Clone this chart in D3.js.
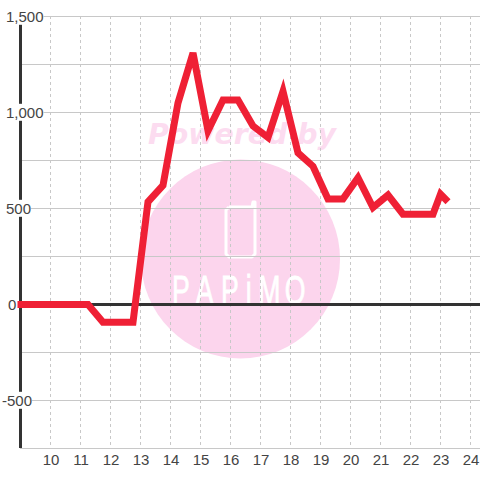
<!DOCTYPE html>
<html><head><meta charset="utf-8">
<script src="https://cdn.jsdelivr.net/npm/d3@7"></script>
<style>html,body{margin:0;padding:0;background:#fff}svg{display:block}text{font-family:"Liberation Sans",Arial,sans-serif}</style>
</head><body><div id="c"></div>
<script>
const hours=[8.9,11.25,11.75,12.75,13.25,13.75,14.25,14.75,15.25,15.75,16.25,16.75,17.25,17.75,18.25,18.75,19.25,19.75,20.25,20.75,21.25,21.75,22.25,22.75,23,23.25];
const values=[0,0,-92,-92,535,620,1050,1310,905,1065,1065,930,870,1110,790,720,550,550,660,505,570,470,470,470,575,535];
const xTicks=[10,11,12,13,14,15,16,17,18,19,20,21,22,23,24];
const yTicks=[-750,-500,-250,0,250,500,750,1000,1250,1500];
const yLabels=[-500,0,500,1000,1500];
const watermarkTitle="Powered by";
const watermarkBrand="PAPiMO";

const svg=d3.select("#c").append("svg").attr("width",480).attr("height",480);
const x=d3.scaleLinear().domain([9,25]).range([20.5,500.5]);
const y=d3.scaleLinear().domain([-750,1500]).range([448.5,16.5]);

// watermark
const pink="#fcd5ed";
svg.append("circle").attr("cx",240.5).attr("cy",259).attr("r",99.5).attr("fill",pink);
svg.append("text").attr("x",242).attr("y",144).attr("text-anchor","middle").attr("fill","#fcdcf0")
  .attr("font-size",28).attr("font-weight","bold").attr("font-style","italic")
  .style("font-family","'DejaVu Sans'").attr("textLength",188).attr("lengthAdjust","spacingAndGlyphs").text(watermarkTitle);
svg.append("path").attr("fill","none").attr("stroke","#fff").attr("stroke-width",3).attr("stroke-linejoin","round")
  .attr("d",d3.line()([[229,207],[252,207],[253,202],[255,202],[255,254],[252,257],[229,257],[226,254],[226,210],[229,207]]));
svg.append("text").attr("transform","translate(173,303.5) scale(.65,1)").attr("x","-1.5 35 74 112 131 172").attr("fill","#fff")
  .attr("stroke","#fff").attr("stroke-width",0.8)
  .attr("font-size",41).style("font-family","'Liberation Sans'").text(watermarkBrand);

// grid
const g=svg.append("g");
g.selectAll("line.h").data(yTicks).join("line").attr("class","h")
  .attr("x1",20).attr("x2",480).attr("y1",d=>y(d)).attr("y2",d=>y(d)).attr("stroke","#c8c8c8").attr("stroke-width",1);
g.selectAll("line.v").data(xTicks).join("line").attr("class","v")
  .attr("x1",d=>x(d)).attr("x2",d=>x(d)).attr("y1",16).attr("y2",448)
  .attr("stroke","#c8c8c8").attr("stroke-width",1).attr("stroke-dasharray","3,3");

// axes lines
svg.append("line").attr("x1",x(9)).attr("x2",x(9)).attr("y1",16).attr("y2",448).attr("stroke","#333").attr("stroke-width",3);
svg.append("line").attr("x1",20).attr("x2",480).attr("y1",y(0)).attr("y2",y(0)).attr("stroke","#333").attr("stroke-width",3);

// axis labels
const fmt=d3.format(",");
const ya=svg.append("g")
  .call(d3.axisLeft(y).tickValues(yLabels).tickFormat(d=>fmt(d).replace("\u2212","-")).tickSize(0).tickPadding(0));
ya.select(".domain").remove();
ya.selectAll("text").attr("text-anchor","start").attr("x",d=>d<0?2:(d===0?8:6)).attr("dy","0.32em")
  .attr("font-size",15).attr("fill","#444").style("font-family","'Liberation Sans'");
ya.selectAll(".tick").each(function(){
  const t=d3.select(this).select("text").node().getBBox();
  d3.select(this).insert("rect","text").attr("x",t.x).attr("y",t.y).attr("width",t.width).attr("height",t.height).attr("fill","#fff");
});
const xa=svg.append("g").attr("transform","translate(0,448)")
  .call(d3.axisBottom(x).tickValues(xTicks).tickFormat(d=>d).tickSize(0).tickPadding(6));
xa.select(".domain").remove();
xa.selectAll("text").attr("font-size",15).attr("fill","#444").style("font-family","'Liberation Sans'");

// series
svg.append("path").datum(hours.map((h,i)=>[h,values[i]])).attr("fill","none").attr("stroke","#ef2035")
  .attr("stroke-width",7).attr("stroke-linejoin","miter").attr("stroke-linecap","butt")
  .attr("d",d3.line().x(d=>x(d[0])).y(d=>y(d[1])));
</script></body></html>
